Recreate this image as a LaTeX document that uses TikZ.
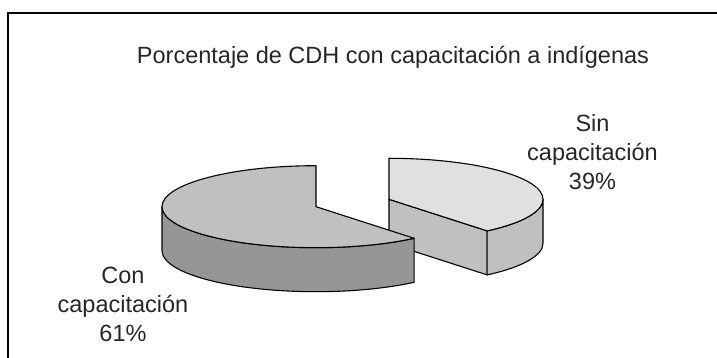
\documentclass[tikz,border=0pt]{standalone}
\usepackage{fontspec}
\setmainfont{Liberation Sans}
\begin{document}
\begin{tikzpicture}[x=1pt,y=1pt,
  edge/.style={draw=black,line width=1.1pt,line join=round},
  lab/.style={font=\fontsize{23.5}{29}\selectfont,align=center,inner sep=0pt,text=black!85}]
\useasboundingbox (0,0) rectangle (717,358);
\definecolor{lefttop}{HTML}{C0C0C0}
\definecolor{leftside}{HTML}{969696}
\definecolor{righttop}{HTML}{E0E0E0}
\definecolor{rightside}{HTML}{C0C0C0}
\def\rx{154}\def\ry{41}\def\hh{44}
% frame
\draw[line width=2pt] (8,-5) -- (8,345.3) -- (725,345.3);
% centres
\coordinate (c2) at (389,158.7);
\coordinate (c2b) at (389,114.7);
\coordinate (c1) at (316,151.3);
% right slice (Sin capacitacion)
\path[edge,fill=rightside] (c2) -- ++(-50.4:\rx pt and \ry pt) -- ++(0,-\hh) -- (c2b) -- cycle;
\path[edge,fill=rightside] (c2) ++(-50.4:\rx pt and \ry pt)
   arc[start angle=-50.4,end angle=0,x radius=\rx,y radius=\ry] -- ++(0,-\hh)
   arc[start angle=0,end angle=-50.4,x radius=\rx,y radius=\ry] -- cycle;
\path[edge,fill=righttop] (c2) -- ++(-50.4:\rx pt and \ry pt)
   arc[start angle=-50.4,end angle=90,x radius=\rx,y radius=\ry] -- cycle;
% left slice (Con capacitacion)
\path[edge,fill=leftside] (c1) ++(180:\rx pt and \ry pt)
   arc[start angle=180,end angle=309.6,x radius=\rx,y radius=\ry] -- ++(0,-\hh)
   arc[start angle=309.6,end angle=180,x radius=\rx,y radius=\ry] -- cycle;
\path[edge,fill=lefttop] (c1) -- ++(90:\rx pt and \ry pt)
   arc[start angle=90,end angle=309.6,x radius=\rx,y radius=\ry] -- cycle;
% texts
\node[lab,anchor=base] (title) at (393,294) {Porcentaje de CDH con capacitación a indígenas};
\node[lab] (sin) at (592.5,205.5) {Sin\\capacitación\\39\%};
\node[lab] (con) at (123,54) {Con\\capacitación\\61\%};
\end{tikzpicture}
\end{document}
